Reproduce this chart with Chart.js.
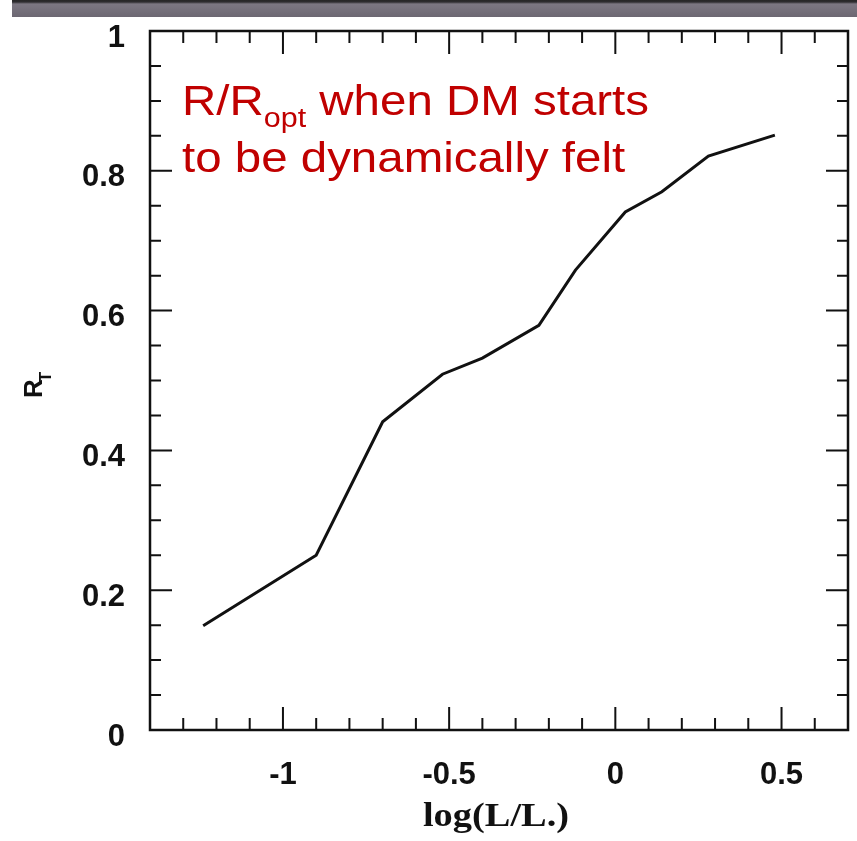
<!DOCTYPE html>
<html>
<head>
<meta charset="utf-8">
<script src="https://cdn.jsdelivr.net/npm/chart.js@4/dist/chart.umd.min.js"></script>
<style>
  body { margin: 0; background: #fff; }
  #wrap { position: relative; width: 857px; height: 841px; }
  #topbar {
    position: absolute; left: 12px; top: 0; width: 845px; height: 17px;
    background: linear-gradient(#262626 0px, #2e2d30 2px, #7c7782 4px, #6c6772 17px);
  }
  canvas { position: absolute; left: 0; top: 0; }
</style>
</head>
<body>
<div id="wrap">
  <canvas id="myChart" width="857" height="841"></canvas>
  <div id="topbar"></div>
</div>
<script>
// data
const logL = [-1.24, -0.90, -0.70, -0.52, -0.40, -0.23, -0.12, 0.03, 0.14, 0.28, 0.48];
const rT = [0.149, 0.250, 0.441, 0.509, 0.532, 0.579, 0.658, 0.741, 0.770, 0.821, 0.851];

const xTicks = [-1, -0.5, 0, 0.5];
const xTickLabels = ['-1', '-0.5', '0', '0.5'];
const yTicks = [0, 0.2, 0.4, 0.6, 0.8, 1];
const yTickLabels = ['0', '0.2', '0.4', '0.6', '0.8', '1'];

const sans = '"Liberation Sans", Arial, Helvetica, sans-serif';
const serif = '"Liberation Serif", "Times New Roman", serif';

// frame, inward ticks on all four sides, and the texts
const frameTicks = {
    id: 'frameTicks',
    afterDraw(chart) {
        const ctx = chart.ctx;
        const a = chart.chartArea;
        const x = chart.scales.x, y = chart.scales.y;
        ctx.save();
        ctx.strokeStyle = '#111';
        ctx.lineWidth = 2.5;
        ctx.strokeRect(a.left, a.top, a.right - a.left, a.bottom - a.top);

        ctx.lineWidth = 2;
        ctx.beginPath();
        for (let i = -13; i <= 6; i++) {
            const px = x.getPixelForValue(i / 10);
            const len = (i % 5 === 0) ? 23 : 12;
            ctx.moveTo(px, a.bottom); ctx.lineTo(px, a.bottom - len);
            ctx.moveTo(px, a.top); ctx.lineTo(px, a.top + len);
        }
        for (let i = 1; i < 20; i++) {
            const py = y.getPixelForValue(i / 20);
            const len = (i % 4 === 0) ? 22 : 11;
            ctx.moveTo(a.left, py); ctx.lineTo(a.left + len, py);
            ctx.moveTo(a.right, py); ctx.lineTo(a.right - len, py);
        }
        ctx.stroke();

        // red annotation (source text is a bit wide, so stretch it)
        ctx.fillStyle = '#c00000';
        ctx.save();
        ctx.translate(182, 0);
        ctx.scale(1.13, 1);
        ctx.font = '42px ' + sans;
        ctx.fillText('R/R', 0, 115);
        let cx = ctx.measureText('R/R').width;
        ctx.font = '27px ' + sans;
        ctx.fillText('opt', cx, 127);
        cx += ctx.measureText('opt').width;
        ctx.font = '42px ' + sans;
        ctx.fillText(' when DM starts', cx, 115);
        ctx.fillText('to be dynamically felt', 0, 172);
        ctx.restore();

        // x title
        ctx.fillStyle = '#111';
        ctx.save();
        ctx.translate(496, 826);
        ctx.scale(1.13, 1);
        ctx.font = 'bold 34px ' + serif;
        ctx.textAlign = 'center';
        ctx.fillText('log(L/L.)', 0, 0);
        ctx.restore();

        // y title R_T, rotated
        ctx.save();
        ctx.translate(42, 398);
        ctx.rotate(-Math.PI / 2);
        ctx.font = 'bold 26px ' + sans;
        ctx.fillText('R', 0, 0);
        const rw = ctx.measureText('R').width;
        ctx.font = 'bold 17px ' + sans;
        ctx.fillText('T', rw - 3, 9);
        ctx.restore();

        ctx.restore();
    }
};

const tickFont = { family: sans, size: 31, weight: 'bold' };

new Chart(document.getElementById('myChart').getContext('2d'), {
    type: 'line',
    data: {
        datasets: [{
            data: logL.map((v, i) => ({ x: v, y: rT[i] })),
            borderColor: '#111',
            borderWidth: 3,
            pointRadius: 0,
            tension: 0,
            fill: false
        }]
    },
    options: {
        responsive: false,
        animation: false,
        layout: { padding: { top: 31, right: 9, left: 0, bottom: 0 } },
        plugins: { legend: { display: false }, tooltip: { enabled: false } },
        scales: {
            x: {
                type: 'linear',
                min: -1.4,
                max: 0.7,
                grid: { display: false, drawTicks: false },
                border: { display: false },
                afterFit(s) { s.height = 111; s.paddingLeft = 0; s.paddingRight = 0; },
                afterBuildTicks(s) { s.ticks = xTicks.map(v => ({ value: v })); },
                ticks: {
                    padding: 27,
                    color: '#111',
                    font: tickFont,
                    maxRotation: 0,
                    autoSkip: false,
                    callback: (v) => xTickLabels[xTicks.indexOf(v)]
                }
            },
            y: {
                type: 'linear',
                min: 0,
                max: 1,
                grid: { display: false, drawTicks: false },
                border: { display: false },
                afterFit(s) { s.width = 150; s.paddingTop = 0; s.paddingBottom = 0; },
                afterBuildTicks(s) { s.ticks = yTicks.map(v => ({ value: v })); },
                ticks: {
                    padding: 25,
                    labelOffset: 7,
                    color: '#111',
                    font: tickFont,
                    autoSkip: false,
                    callback: (v) => yTickLabels[yTicks.indexOf(v)]
                }
            }
        }
    },
    plugins: [frameTicks]
});
</script>
</body>
</html>
